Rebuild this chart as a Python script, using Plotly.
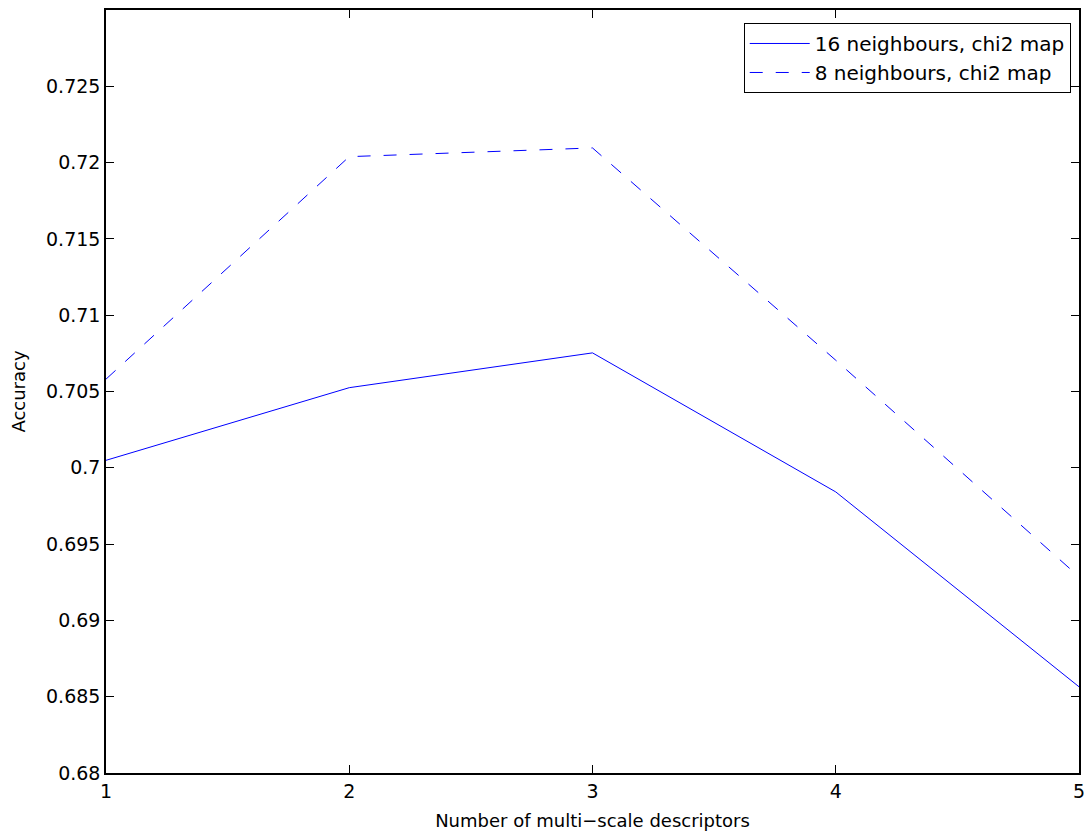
import plotly.graph_objects as go

x_vals = [1, 2, 3, 4, 5]
acc_16 = [0.70049, 0.70525, 0.70753, 0.69842, 0.68565]
acc_8 = [0.70581, 0.72039, 0.72096, 0.70705, 0.69286]
y_ticks = [0.68, 0.685, 0.69, 0.695, 0.7, 0.705, 0.71, 0.715, 0.72, 0.725]
y_tick_labels = ["0.68", "0.685", "0.69", "0.695", "0.7", "0.705", "0.71", "0.715", "0.72", "0.725"]

FONT = "DejaVu Sans"

fig = go.Figure()
fig.add_trace(go.Scatter(x=x_vals, y=acc_16, mode="lines", name="16 neighbours, chi2 map",
                         line=dict(color="#0000ff", width=1)))
fig.add_trace(go.Scatter(x=x_vals, y=acc_8, mode="lines", name="8 neighbours, chi2 map",
                         line=dict(color="#0000ff", width=1, dash="13px,13px")))

axis_common = dict(showline=True, linecolor="black", linewidth=1.5, mirror="ticks",
                   ticks="inside", ticklen=8, tickcolor="black", tickwidth=1,
                   showgrid=False, zeroline=False,
                   tickfont=dict(family=FONT, size=19, color="black"))

fig.update_xaxes(range=[1, 5], tickvals=x_vals, ticktext=[str(v) for v in x_vals],
                 title=dict(text="Number of multi\u2212scale descriptors",
                            font=dict(family=FONT, size=18, color="black"), standoff=14),
                 **axis_common)
fig.update_yaxes(range=[0.68, 0.73], tickvals=y_ticks, ticktext=y_tick_labels,
                 title=dict(text="Accuracy", font=dict(family=FONT, size=18, color="black"), standoff=18),
                 **axis_common)

fig.update_layout(
    width=1092, height=832,
    margin=dict(l=98, r=21, t=0, b=67),
    paper_bgcolor="white", plot_bgcolor="white",
    font=dict(family=FONT, color="black"),
    legend=dict(x=0.9915, y=0.983, xanchor="right", yanchor="top",
                bgcolor="white", bordercolor="black", borderwidth=1,
                font=dict(family=FONT, size=20, color="black"),
                tracegroupgap=0, itemwidth=60),
    showlegend=True,
)

fig.write_html("out.html")
